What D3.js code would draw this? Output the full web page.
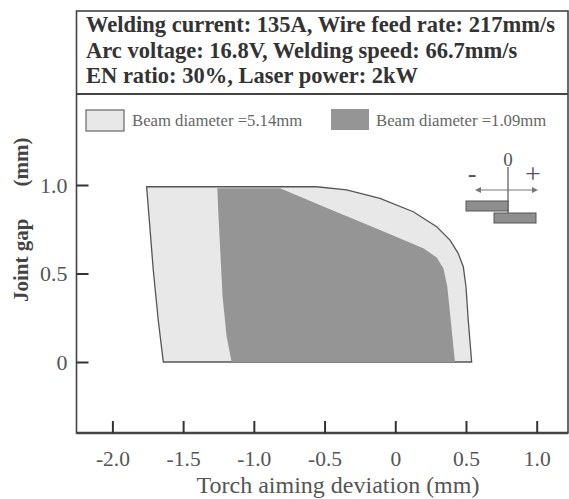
<!DOCTYPE html>
<html>
<head>
<meta charset="utf-8">
<script src="https://cdn.jsdelivr.net/npm/d3@7"></script>
<style>
  body { margin: 0; background: #fff; }
  svg { display: block; }
  text { font-family: "Liberation Serif", "DejaVu Serif", serif; }
</style>
</head>
<body>
<script>
// header lines
const headerLines = [
  "Welding current: 135A, Wire feed rate: 217mm/s",
  "Arc voltage: 16.8V, Welding speed: 66.7mm/s",
  "EN ratio: 30%, Laser power: 2kW"
];

// axis ticks
const xTicks = [-2, -1.5, -1, -0.5, 0, 0.5, 1];
const xTickLabels = ["-2.0", "-1.5", "-1.0", "-0.5", "0", "0.5", "1.0"];
const yTicks = [0, 0.5, 1];
const yTickLabels = ["0", "0.5", "1.0"];

const legendLabels = ["Beam diameter =5.14mm", "Beam diameter =1.09mm"];

// region boundaries [torch deviation, joint gap]
const wideBeam = [
  [-1.758, 0.99], [-0.556, 0.99], [-0.344, 0.972], [-0.108, 0.925],
  [0.127, 0.849], [0.293, 0.764], [0.387, 0.689], [0.445, 0.614],
  [0.481, 0.538], [0.500, 0.425], [0.516, 0.237], [0.540, 0.0],
  [-1.640, 0.0], [-1.676, 0.237], [-1.711, 0.52], [-1.739, 0.80]
];
const narrowBeam = [
  [-1.258, 0.981], [-0.815, 0.981], [-0.462, 0.863], [-0.108, 0.746],
  [0.198, 0.642], [0.293, 0.591], [0.340, 0.529], [0.368, 0.425],
  [0.392, 0.237], [0.422, 0.0], [-1.157, 0.0], [-1.192, 0.143],
  [-1.221, 0.369], [-1.240, 0.671], [-1.252, 0.859]
];

const W = 569, H = 499;
const frame = {left: 76.5, top: 11, right: 568, bottom: 433, header: 94};

const lightFill = "#e8e8e8", darkFill = "#959595";

const svg = d3.select("body").append("svg")
    .attr("width", W)
    .attr("height", H);

// scales
const x = d3.scaleLinear().domain([-2, 1]).range([112.4, 536.7]);
const y = d3.scaleLinear().domain([0, 1]).range([362, 185]);

const line = d3.line()
    .x(d => x(d[0]))
    .y(d => y(d[1]))
    .curve(d3.curveLinearClosed);

// regions
svg.append("path")
    .attr("d", line(wideBeam))
    .attr("fill", lightFill)
    .attr("stroke", "#555")
    .attr("stroke-width", 1.3);

svg.append("path")
    .attr("d", line(narrowBeam))
    .attr("fill", darkFill);

// frame
svg.append("rect")
    .attr("x", frame.left)
    .attr("y", frame.top)
    .attr("width", frame.right - frame.left)
    .attr("height", frame.bottom - frame.top)
    .attr("fill", "none")
    .attr("stroke", "#444")
    .attr("stroke-width", 1.6);

svg.append("line")
    .attr("x1", frame.left).attr("x2", frame.right)
    .attr("y1", frame.header).attr("y2", frame.header)
    .attr("stroke", "#444")
    .attr("stroke-width", 2.2);

svg.append("line")
    .attr("x1", frame.left).attr("x2", frame.right)
    .attr("y1", frame.bottom).attr("y2", frame.bottom)
    .attr("stroke", "#444")
    .attr("stroke-width", 2.4);

// header text
svg.append("g")
  .selectAll("text")
  .data(headerLines)
  .join("text")
    .attr("x", 86)
    .attr("y", (d, i) => 32 + i * 25.5)
    .attr("fill", "#333")
    .style("font-size", "22.5px")
    .style("font-weight", "bold")
    .text(d => d);

// axes
const xAxis = svg.append("g")
    .attr("transform", `translate(0,${frame.bottom})`)
    .call(d3.axisBottom(x)
      .tickValues(xTicks)
      .tickFormat((d, i) => xTickLabels[i])
      .tickSize(-12)
      .tickPadding(18));
xAxis.select(".domain").remove();
xAxis.selectAll("line").attr("stroke", "#333").attr("stroke-width", 2);
xAxis.selectAll("text")
    .attr("fill", "#555")
    .style("font-size", "21.5px")
    .style("font-family", "'Liberation Serif', serif");

const yAxis = svg.append("g")
    .attr("transform", `translate(${frame.left},0)`)
    .call(d3.axisLeft(y)
      .tickValues(yTicks)
      .tickFormat((d, i) => yTickLabels[i])
      .tickSize(-12)
      .tickPadding(9));
yAxis.select(".domain").remove();
yAxis.selectAll("line").attr("stroke", "#333").attr("stroke-width", 2);
yAxis.selectAll("text")
    .attr("fill", "#555")
    .style("font-size", "22px")
    .style("font-family", "'Liberation Serif', serif");

// axis titles
svg.append("text")
    .attr("x", 338)
    .attr("y", 493)
    .attr("text-anchor", "middle")
    .attr("fill", "#555")
    .style("font-size", "24px")
    .text("Torch aiming deviation (mm)");

const yTitle = svg.append("text")
    .attr("transform", "translate(28,302) rotate(-90)")
    .attr("fill", "#444")
    .style("font-size", "21px")
    .style("font-weight", "bold");
yTitle.append("tspan").text("Joint gap");
yTitle.append("tspan").attr("dx", 32).text("(mm)");

// legend
const legend = svg.append("g");
const swatches = [
  {x: 86, y: 110, fill: lightFill, stroke: "#666"},
  {x: 331, y: 109, fill: darkFill, stroke: "none"}
];
legend.selectAll("rect")
  .data(swatches)
  .join("rect")
    .attr("x", d => d.x)
    .attr("y", d => d.y)
    .attr("width", 38)
    .attr("height", 21)
    .attr("fill", d => d.fill)
    .attr("stroke", d => d.stroke)
    .attr("stroke-width", 1.2);
legend.selectAll("text")
  .data(legendLabels)
  .join("text")
    .attr("x", (d, i) => swatches[i].x + (i ? 45 : 46))
    .attr("y", 125.5)
    .attr("fill", "#666")
    .style("font-size", "16.7px")
    .text(d => d);

// inset sketch: torch position sign convention
const inset = svg.append("g");
inset.append("text")
    .attr("x", 508).attr("y", 166)
    .attr("text-anchor", "middle")
    .attr("fill", "#555")
    .style("font-size", "19px")
    .text("0");
inset.append("text")
    .attr("x", 472).attr("y", 182)
    .attr("text-anchor", "middle")
    .attr("fill", "#555")
    .style("font-size", "26px")
    .text("-");
inset.append("text")
    .attr("x", 533).attr("y", 183)
    .attr("text-anchor", "middle")
    .attr("fill", "#555")
    .style("font-size", "28px")
    .text("+");
inset.append("line")
    .attr("x1", 508).attr("x2", 508)
    .attr("y1", 167).attr("y2", 213)
    .attr("stroke", "#555").attr("stroke-width", 1.2);
inset.append("line")
    .attr("x1", 478).attr("x2", 535)
    .attr("y1", 190).attr("y2", 190)
    .attr("stroke", "#777").attr("stroke-width", 1.2);
inset.append("path")
    .attr("d", "M475,190 l6,-3 l0,6 z M538,190 l-6,-3 l0,6 z")
    .attr("fill", "#777");
inset.selectAll("rect")
  .data([[466, 201], [494, 213]])
  .join("rect")
    .attr("x", d => d[0])
    .attr("y", d => d[1])
    .attr("width", 42)
    .attr("height", 10)
    .attr("fill", "#8e8e8e")
    .attr("stroke", "#555")
    .attr("stroke-width", 1);
</script>
</body>
</html>
